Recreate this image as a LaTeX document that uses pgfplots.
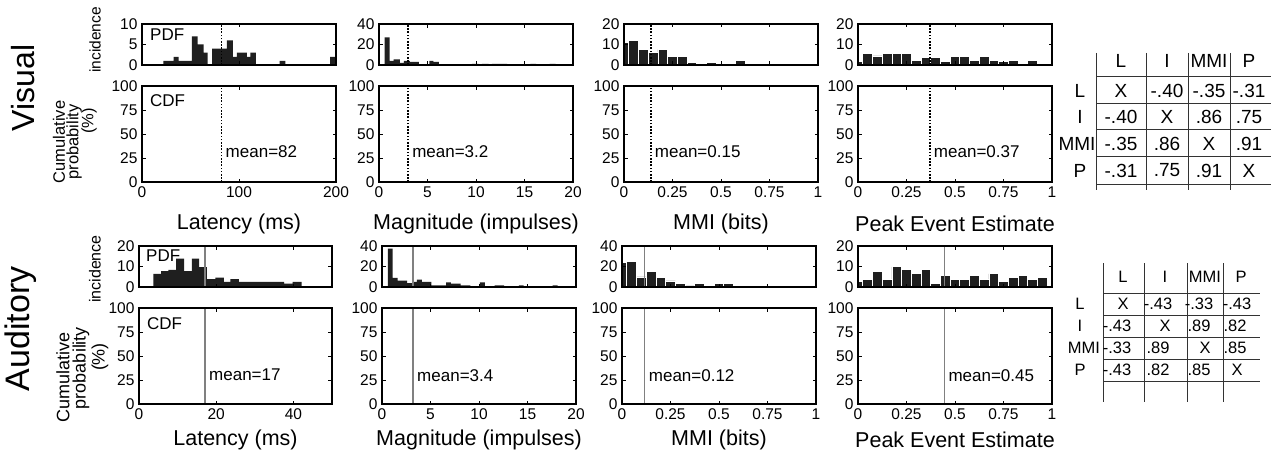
\documentclass[border=0pt]{standalone}
\usepackage{fontspec}
\setmainfont{Liberation Sans}
\usepackage{pgfplots}
\pgfplotsset{compat=1.18}
\newcommand{\fs}[1]{\fontsize{#1}{#1}\selectfont}
\tikzset{
  meantxt/.style={anchor=west, font=\fs{17}, inner sep=0pt, xshift=4pt},
  boxtxt/.style={anchor=north west, font=\fs{17}, inner sep=0pt, xshift=8pt, yshift=-8pt},
}
\pgfplotsset{
  panel/.style={scale only axis, width=194pt, anchor=south west, axis on top,
    axis line style={line width=1.5pt}, tick align=inside, major tick length=3.5pt,
    tick style={black, line width=0.8pt},
    ticklabel style={font=\fs{15.5}}, /pgf/number format/assume math mode=true,
    yticklabel style={xshift=-1pt}, xticklabel style={yshift=-1pt}},
  pdf/.style={panel, height=41pt, xticklabels={}, ymin=0},
  cdf/.style={panel, height=96pt, ymin=0, ymax=100, ytick={0,25,50,75,100},
    xlabel style={font=\fs{21.5}, at={(axis description cs:0.5,0)}, anchor=center, yshift=-42pt}},
  frac/.style={xmin=0, xmax=1, xtick={0,0.25,0.5,0.75,1}, xticklabels={0,0.25,0.5,0.75,1}},
  hist/.style={ybar interval, fill=black!88, draw=none},
  histg/.style={ybar interval, fill=black!88, draw=white, line width=0.9pt},
  vmean/.style={black, dash pattern=on 1.6pt off 1.6pt, line width=1.5pt},
  amean/.style={black!50, line width=1.1pt},
}
\begin{document}
\begin{tikzpicture}
% ================= VISUAL =================
\begin{axis}[pdf, at={(142pt,391pt)}, xmin=0, xmax=200, ymax=10, ytick={0,5,10}, xtick={0,100,200}]
\addplot[hist] coordinates {(22,1) (32.6,2) (37.8,1) (51.5,7) (57.4,5) (63.6,3) (67.7,0) (72.2,4) (82.5,4) (87.6,6) (93.8,2) (97.9,3) (108,2) (111.7,3) (117.5,0) (142,1) (147.8,0) (194,2) (200,0)};
\addplot[vmean] coordinates {(82,0) (82,10)};
\node[boxtxt, yshift=3pt] at (rel axis cs:0,1) {PDF};
\end{axis}
\begin{axis}[cdf, at={(142pt,274pt)}, xmin=0, xmax=200, xtick={0,100,200}, xlabel={Latency (ms)}]
\addplot[vmean] coordinates {(82,0) (82,100)};
\node[meantxt] at (axis cs:82,32) {mean=82};
\node[boxtxt] at (rel axis cs:0,1) {CDF};
\end{axis}

\begin{axis}[pdf, at={(379pt,391pt)}, xmin=0, xmax=20, ymax=40, ytick={0,20,40}, xtick={0,5,10,15,20}]
\addplot[hist] coordinates {(0.59,27) (1.1,4) (1.52,5.5) (2.14,2) (2.56,4) (3.18,3) (4.11,0.4) (5.18,4) (5.6,3) (6.18,0) (9.57,1) (10.26,0) (10.6,1) (11.3,0) (11.64,1) (13.2,0) (15.6,1) (16.2,0) (17.6,1) (18.2,0) (20,0)};
\addplot[vmean] coordinates {(3.0,0) (3.0,40)};
\end{axis}
\begin{axis}[cdf, at={(379pt,274pt)}, xmin=0, xmax=20, xtick={0,5,10,15,20}, xlabel={Magnitude (impulses)}]
\addplot[vmean] coordinates {(3.0,0) (3.0,100)};
\node[meantxt] at (axis cs:3.0,32) {mean=3.2};
\end{axis}

\begin{axis}[pdf, frac, xticklabels={}, at={(624pt,391pt)}, ymax=20, ytick={0,10,20}]
\addplot[histg] coordinates {(0,11) (0.025,12) (0.075,7.5) (0.125,6) (0.175,7.5) (0.225,4) (0.275,4) (0.325,1) (0.375,0) (0.425,1) (0.475,0) (0.575,2) (0.625,0) (1,0)};
\addplot[vmean] coordinates {(0.138,0) (0.138,20)};
\end{axis}
\begin{axis}[cdf, frac, at={(624pt,274pt)}, xlabel={MMI (bits)}]
\addplot[vmean] coordinates {(0.138,0) (0.138,100)};
\node[meantxt] at (axis cs:0.138,32) {mean=0.15};
\end{axis}

\begin{axis}[pdf, frac, xticklabels={}, at={(858pt,391pt)}, ymax=20, ytick={0,10,20}]
\addplot[histg] coordinates {(0,1.5) (0.025,5.7) (0.075,4.4) (0.125,5.7) (0.175,5.7) (0.225,5.7) (0.275,2.3) (0.325,3.6) (0.375,3.6) (0.425,1.6) (0.475,4.2) (0.525,4.2) (0.575,2.3) (0.625,4.2) (0.675,2.3) (0.725,1.6) (0.775,2.3) (0.825,0) (0.875,2.3) (0.925,0) (1,0)};
\addplot[vmean] coordinates {(0.37,0) (0.37,20)};
\end{axis}
\begin{axis}[cdf, frac, at={(858pt,274pt)}, xlabel={Peak Event Estimate}]
\addplot[vmean] coordinates {(0.37,0) (0.37,100)};
\node[meantxt] at (axis cs:0.37,32) {mean=0.37};
\end{axis}

% ================= AUDITORY =================
\begin{axis}[pdf, at={(139pt,169pt)}, width=193pt, xmin=0, xmax=50, ymax=20, ytick={0,10,20}, xtick={0,20,40}]
\addplot[hist] coordinates {(3.7,6.4) (5.7,7.7) (7.6,8.4) (9.6,13.8) (11.7,7.7) (13.7,13.8) (15.6,9.7) (17.6,3.9) (19.8,4.6) (22,2.5) (23.7,3.8) (25.9,2.5) (37.6,1.6) (39.8,2.5) (42.1,0) (50,0)};
\addplot[amean] coordinates {(17.1,0) (17.1,20)};
\node[boxtxt, yshift=4pt, xshift=-1pt] at (rel axis cs:0,1) {PDF};
\end{axis}
\begin{axis}[cdf, at={(139pt,52pt)}, width=193pt, xmin=0, xmax=50, xtick={0,20,40}, xlabel={Latency (ms)}, xlabel style={yshift=6pt}]
\addplot[amean] coordinates {(17.1,0) (17.1,100)};
\node[meantxt] at (axis cs:17.1,30) {mean=17};
\node[boxtxt, yshift=-1pt] at (rel axis cs:0,1) {CDF};
\end{axis}

\begin{axis}[pdf, at={(382pt,169pt)}, xmin=0, xmax=20, ymax=40, ytick={0,20,40}, xtick={0,5,10,15,20}]
\addplot[hist] coordinates {(0.6,37.4) (1.1,8.9) (1.6,6.2) (2.1,6.2) (2.6,3.9) (3.1,4.9) (3.6,7.2) (4.1,4.9) (4.6,4.9) (5.1,1.6) (5.6,1.6) (6.1,1.6) (6.6,4.6) (7.1,3.3) (7.6,3.3) (8.1,1.6) (8.6,1.6) (9.1,0) (10.1,4.6) (10.6,0) (11.6,1.6) (12.1,1.6) (12.6,0) (14.1,1.6) (14.6,0) (17.6,1.6) (18.1,0) (20,0)};
\addplot[amean] coordinates {(3.2,0) (3.2,40)};
\end{axis}
\begin{axis}[cdf, at={(382pt,52pt)}, xmin=0, xmax=20, xtick={0,5,10,15,20}, xlabel={Magnitude (impulses)}, xlabel style={yshift=6pt}]
\addplot[amean] coordinates {(3.2,0) (3.2,100)};
\node[meantxt] at (axis cs:3.2,30) {mean=3.4};
\end{axis}

\begin{axis}[pdf, frac, xticklabels={}, at={(622pt,169pt)}, ymax=40, ytick={0,20,40}]
\addplot[histg] coordinates {(0,23.6) (0.025,24.6) (0.075,9.8) (0.125,15.4) (0.175,8.9) (0.225,5.9) (0.275,3) (0.325,1) (0.375,3) (0.425,1.6) (0.475,3) (0.525,3) (0.575,0) (1,0)};
\addplot[amean] coordinates {(0.117,0) (0.117,40)};
\end{axis}
\begin{axis}[cdf, frac, at={(622pt,52pt)}, xlabel={MMI (bits)}, xlabel style={yshift=6pt}]
\addplot[amean] coordinates {(0.117,0) (0.117,100)};
\node[meantxt] at (axis cs:0.117,30) {mean=0.12};
\end{axis}

\begin{axis}[pdf, frac, xticklabels={}, at={(858pt,169pt)}, ymax=20, ytick={0,10,20}]
\addplot[histg] coordinates {(0,2.5) (0.025,3.6) (0.075,7.7) (0.125,3.6) (0.175,9.8) (0.225,8.5) (0.275,6.4) (0.325,8.5) (0.375,1.6) (0.425,5.7) (0.475,3.6) (0.525,3.6) (0.575,5.7) (0.625,3.6) (0.675,6.4) (0.725,2.5) (0.775,4.8) (0.825,5.7) (0.875,3.6) (0.925,4.8) (0.975,0) (1,0)};
\addplot[amean] coordinates {(0.445,0) (0.445,20)};
\end{axis}
\begin{axis}[cdf, frac, at={(858pt,52pt)}, xlabel={Peak Event Estimate}, xlabel style={yshift=6pt}]
\addplot[amean] coordinates {(0.445,0) (0.445,100)};
\node[meantxt] at (axis cs:0.445,30) {mean=0.45};
\end{axis}

% ================= side labels =================
\node[rotate=90, font=\fs{32}] at (23pt,368pt) {Visual};
\node[rotate=90, font=\fs{34}] at (21pt,127pt) {Auditory};
\node[rotate=90, font=\fs{15.5}] at (95pt,416pt) {incidence};
\node[rotate=90, font=\fs{16}] at (95pt,187pt) {incidence};
\node[rotate=90, font=\fs{16.5}] at (59pt,314pt) {Cumulative};
\node[rotate=90, font=\fs{16.5}] at (74pt,314pt) {probability};
\node[rotate=90, font=\fs{16.5}] at (89pt,335pt) {(\%)};
\node[rotate=90, font=\fs{18}] at (63pt,79pt) {Cumulative};
\node[rotate=90, font=\fs{18}] at (81pt,88pt) {probability};
\node[rotate=90, font=\fs{18}] at (100pt,99pt) {(\%)};

% ================= tables =================
\begin{scope}[line width=1pt, black!80]
\foreach \x in {1096,1146,1188,1230} \draw (\x pt,403pt) -- (\x pt,266pt);
\foreach \y in {379,352,326,299,272} \draw (1096pt,\y pt) -- (1271pt,\y pt);
\foreach \x in {1103,1144,1187,1223} \draw (\x pt,193pt) -- (\x pt,54pt);
\foreach \y in {163,141,119,97,75} \draw (1103pt,\y pt) -- (1260pt,\y pt);
\end{scope}
\begin{scope}[every node/.style={font=\fs{19}, inner sep=0pt}]
\node at (1121pt,395pt) {L}; \node at (1167pt,395pt) {I}; \node at (1209pt,395pt) {MMI}; \node at (1249pt,395pt) {P};
\node at (1080pt,365.5pt) {L}; \node at (1080pt,339pt) {I}; \node at (1077pt,312.5pt) {MMI}; \node at (1080pt,285.5pt) {P};
\node at (1121pt,365.5pt) {X}; \node at (1167pt,365.5pt) {-.40}; \node at (1209pt,365.5pt) {-.35}; \node at (1249pt,365.5pt) {-.31};
\node at (1121pt,339pt) {-.40}; \node at (1167pt,339pt) {X}; \node at (1209pt,339pt) {.86}; \node at (1249pt,339pt) {.75};
\node at (1121pt,312.5pt) {-.35}; \node at (1167pt,312.5pt) {.86}; \node at (1209pt,312.5pt) {X}; \node at (1249pt,312.5pt) {.91};
\node at (1121pt,285.5pt) {-.31}; \node at (1167pt,285.5pt) {.75}; \node at (1209pt,285.5pt) {.91}; \node at (1249pt,285.5pt) {X};
\end{scope}
\begin{scope}[every node/.style={font=\fs{16.5}, inner sep=0pt}]
\node at (1123pt,179pt) {L}; \node at (1165pt,179pt) {I}; \node at (1205pt,179pt) {MMI}; \node at (1241pt,179pt) {P};
\node at (1080pt,152pt) {L}; \node at (1080pt,130pt) {I}; \node at (1084pt,108pt) {MMI}; \node at (1080pt,86pt) {P};
\node at (1123pt,152pt) {X}; \node at (1158pt,152pt) {-.43}; \node at (1199pt,152pt) {-.33}; \node at (1237pt,152pt) {-.43};
\node at (1117pt,130pt) {-.43}; \node at (1165pt,130pt) {X}; \node at (1199pt,130pt) {.89}; \node at (1235pt,130pt) {.82};
\node at (1117pt,108pt) {-.33}; \node at (1158pt,108pt) {.89}; \node at (1205pt,108pt) {X}; \node at (1235pt,108pt) {.85};
\node at (1117pt,86pt) {-.43}; \node at (1158pt,86pt) {.82}; \node at (1199pt,86pt) {.85}; \node at (1237pt,86pt) {X};
\end{scope}
\pgfresetboundingbox
\path[use as bounding box] (0pt,0pt) rectangle (1271pt,456pt);
\end{tikzpicture}
\end{document}
